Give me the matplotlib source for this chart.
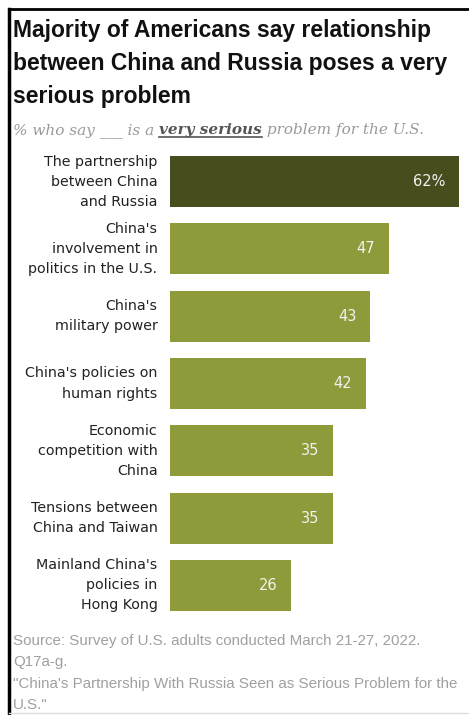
import matplotlib.pyplot as plt
from matplotlib.lines import Line2D

labels = ['The partnership\nbetween China\nand Russia',
          "China's\ninvolvement in\npolitics in the U.S.",
          "China's\nmilitary power",
          "China's policies on\nhuman rights",
          'Economic\ncompetition with\nChina',
          'Tensions between\nChina and Taiwan',
          "Mainland China's\npolicies in\nHong Kong"]
values = [62, 47, 43, 42, 35, 35, 26]
value_text = ['62%', '47', '43', '42', '35', '35', '26']

dark = '#474d1d'
light = '#8f9b3a'
colors = [dark] + [light] * 6

W, H = 469, 715
fig = plt.figure(figsize=(W / 100, H / 100), dpi=100)
plt.rcParams['font.family'] = ['Liberation Sans', 'DejaVu Sans']

# axes in pixel positions
left, right = 170, 459
top, bottom = 148, 619
ax = fig.add_axes([left / W, 1 - bottom / H, (right - left) / W, (bottom - top) / H])
ypos = list(range(len(values)))
ax.barh(ypos, values, height=0.76, color=colors)
ax.set_xlim(0, 62)
ax.set_ylim(6.5, -0.5)
ax.axis('off')

for y, v, t, lab in zip(ypos, values, value_text, labels):
    ax.annotate(t, (v, y), xytext=(-10, 0), textcoords='offset points',
                ha='right', va='center', color='#f2f2f2', fontsize=10.5,
                family='DejaVu Sans')
    ax.annotate(lab, (0, y), xytext=(-9, 0), textcoords='offset points',
                ha='right', va='center', color='#222222', fontsize=10.3,
                linespacing=1.55, family='DejaVu Sans')

# title
fig.text(13 / W, 1 - 19 / H,
         'Majority of Americans say relationship\nbetween China and Russia poses a very\nserious problem',
         ha='left', va='top', fontsize=16.5, fontweight='bold', color='#111111',
         linespacing=1.56)

# subtitle with bold underlined part
sub_y = 1 - 134 / H
serif = ['DejaVu Serif']
fs = 11
t1 = fig.text(13 / W, sub_y, '% who say ___ is a ', ha='left', va='baseline',
              fontsize=fs, style='italic', color='#9a9a9a', family=serif)
t2 = fig.text(0, 0, 'very serious', ha='left', va='baseline', fontsize=fs,
              style='italic', fontweight='bold', color='#555555', family=serif)
t3 = fig.text(0, 0, ' problem for the U.S.', ha='left', va='baseline',
              fontsize=fs, style='italic', color='#9a9a9a', family=serif)
fig.canvas.draw()
r = fig.canvas.get_renderer()
b1 = t1.get_window_extent(r)
t2.set_position((b1.x1 / W, sub_y))
fig.canvas.draw()
b2 = t2.get_window_extent(r)
t3.set_position((b2.x1 / W, sub_y))
uy = sub_y - 3 / H
fig.add_artist(Line2D([b2.x0 / W, b2.x1 / W], [uy, uy], color='#555555', lw=1.2))

# footer
foot = ('Source: Survey of U.S. adults conducted March 21-27, 2022.\n'
        'Q17a-g.\n'
        '"China\'s Partnership With Russia Seen as Serious Problem for the\n'
        'U.S."')
fig.text(13 / W, 1 - 634 / H, foot, ha='left', va='top', fontsize=10.9,
         color='#a0a0a0', linespacing=1.68)

# frame lines
fig.add_artist(Line2D([9 / W, 1], [1 - 9 / H, 1 - 9 / H], color='black', lw=2))
fig.add_artist(Line2D([9 / W, 9 / W], [0, 1 - 9 / H], color='black', lw=2.5))
fig.add_artist(Line2D([9 / W, 1], [1 - 713 / H, 1 - 713 / H], color='#dddddd', lw=1))

fig.savefig('out.png', dpi=100)
